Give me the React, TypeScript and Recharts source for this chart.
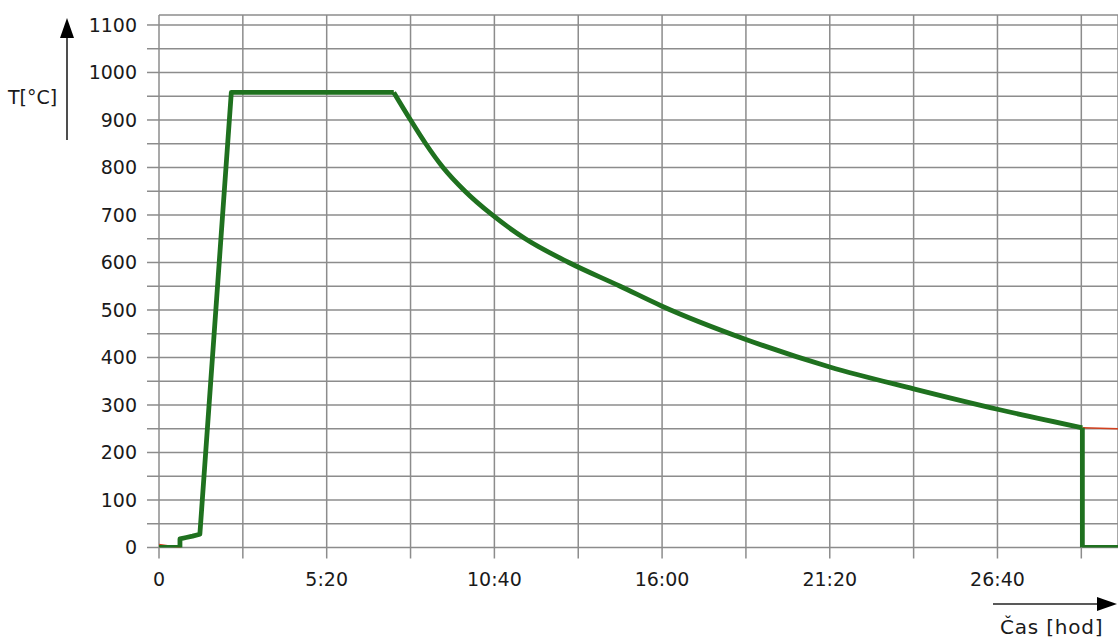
import React from "react";
import { LineChart, Line, XAxis, YAxis, CartesianGrid } from "recharts";

// time in minutes, temperature in °C
// heating ramp and holding (measured)
const rampTime = [0, 40, 40, 52, 64, 78, 138, 448];
const rampTemp = [0, 0, 18, 21, 24, 28, 958, 958];
// cooling phase (measured)
const coolTime = [448, 480, 509, 542, 584, 636, 699, 782, 880, 960, 1120, 1280, 1440, 1600, 1762];
const coolTemp = [958, 900, 850, 800, 750, 700, 650, 600, 550, 508, 438, 380, 334, 291, 252];
// end of measurement
const endTime = [1762, 1762, 1830];
const endTemp = [252, 0, 0];

// set point
const setpointTime = [0, 0, 40, 40, 78, 136, 142, 448];
const setpointTemp = [0, 6, 0, 18, 28, 950, 958, 958];
const setpointTailTime = [1762, 1830];
const setpointTailTemp = [252, 250];

const xTicks = [0, 160, 320, 480, 640, 800, 960, 1120, 1280, 1440, 1600, 1760];
const xTickLabels = ["0", "", "5:20", "", "10:40", "", "16:00", "", "21:20", "", "26:40", ""];
const yTicks = [0, 50, 100, 150, 200, 250, 300, 350, 400, 450, 500, 550, 600, 650, 700, 750, 800, 850, 900, 950, 1000, 1050, 1100];

const toRows = (ts: number[], vs: number[]) => ts.map((t, i) => ({ t, v: vs[i] }));
const ramp = toRows(rampTime, rampTemp);
const cool = toRows(coolTime, coolTemp);
const end = toRows(endTime, endTemp);
const setpoint = toRows(setpointTime, setpointTemp);
const setpointTail = toRows(setpointTailTime, setpointTailTemp);

const FONT = "'DejaVu Sans', sans-serif";
const GRID = "#8c8c8c";
const GREEN = "#1f711f";
const RED = "#d2401e";

export default function App() {
  return (
    <div style={{ position: "absolute", left: 0, top: 0, width: 1118, height: 641, background: "#fff", overflow: "hidden" }}>
      <LineChart
        width={1118}
        height={641}
        margin={{ top: 15, right: 0, bottom: 53.5, left: 0 }}
        style={{ fontFamily: FONT }}
      >
        <CartesianGrid stroke={GRID} strokeWidth={1.5} />
        <XAxis
          dataKey="t"
          type="number"
          domain={[0, 1830]}
          ticks={xTicks}
          interval={0}
          allowDataOverflow
          height={40}
          axisLine={false}
          tickLine={{ stroke: GRID, strokeWidth: 1.5 }}
          tickSize={11}
          tickMargin={14}
          tickFormatter={(v: number, i: number) => xTickLabels[i] ?? ""}
          tick={{ fill: "#1a1a1a", fontSize: 19, fontFamily: FONT }}
        />
        <YAxis
          type="number"
          domain={[0, 1121]}
          ticks={yTicks}
          interval={0}
          allowDataOverflow
          width={159}
          axisLine={false}
          tickLine={{ stroke: GRID, strokeWidth: 1.5 }}
          tickSize={12}
          tickMargin={10}
          tickFormatter={(v: number) => (v % 100 === 0 ? String(v) : "")}
          tick={{ fill: "#1a1a1a", fontSize: 19, fontFamily: FONT }}
        />
        <Line data={setpoint} dataKey="v" type="linear" stroke={RED} strokeWidth={1.6} dot={false} isAnimationActive={false} />
        <Line data={setpointTail} dataKey="v" type="linear" stroke={RED} strokeWidth={1.6} dot={false} isAnimationActive={false} />
        <Line data={ramp} dataKey="v" type="linear" stroke={GREEN} strokeWidth={4.8} strokeLinejoin="round" dot={false} isAnimationActive={false} />
        <Line data={cool} dataKey="v" type="monotone" stroke={GREEN} strokeWidth={4.8} strokeLinejoin="round" dot={false} isAnimationActive={false} />
        <Line data={end} dataKey="v" type="linear" stroke={GREEN} strokeWidth={4.8} strokeLinejoin="round" dot={false} isAnimationActive={false} />
      </LineChart>
      <svg
        width={1118}
        height={641}
        style={{ position: "absolute", left: 0, top: 0, pointerEvents: "none" }}
      >
        <line x1={67} y1={38} x2={67} y2={140} stroke="#222" strokeWidth={1.6} />
        <polygon points="67,18 60,38 74,38" fill="#000" />
        <text x={8} y={104} fontSize={19} fontFamily={FONT} fill="#1a1a1a">T[°C]</text>
        <line x1={993} y1={604} x2={1098} y2={604} stroke="#222" strokeWidth={1.6} />
        <polygon points="1097,597 1097,611 1117,604" fill="#000" />
        <text x={1000} y={634} fontSize={20} letterSpacing={0.8} fontFamily={FONT} fill="#1a1a1a">Čas [hod]</text>
      </svg>
    </div>
  );
}
